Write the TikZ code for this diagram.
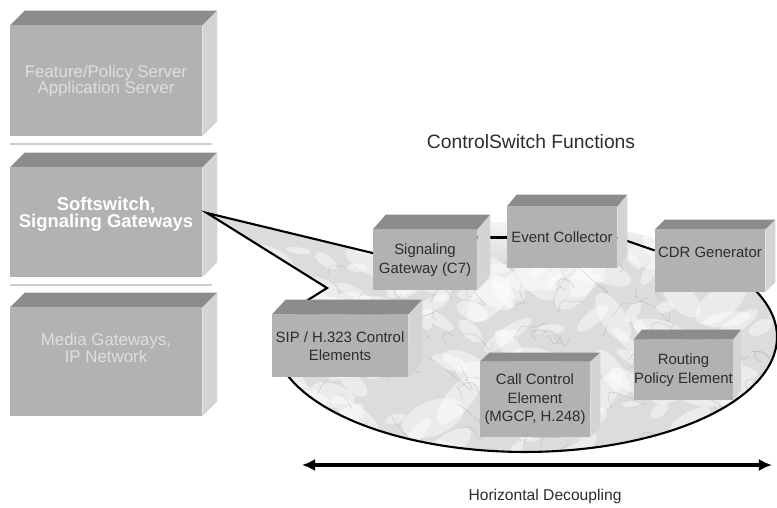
\documentclass[tikz,border=0pt]{standalone}
\usepackage{fontspec}
\setmainfont{Liberation Sans}
\usetikzlibrary{arrows.meta}
\pgfdeclarelayer{back}
\pgfdeclarelayer{links}
\pgfsetlayers{back,links,main}
\definecolor{boxfront}{RGB}{178,178,178}
\definecolor{boxtop}{RGB}{140,140,140}
\definecolor{boxside}{RGB}{212,212,212}
\definecolor{fainttext}{RGB}{222,222,222}
\definecolor{darktext}{RGB}{45,45,45}
\definecolor{marble}{RGB}{220,220,220}
\definecolor{sepline}{RGB}{205,205,205}
\tikzset{
  cube/.style={fill=boxfront, inner sep=0pt, align=center},
  layerbox/.style={cube, minimum width=3.84cm},
  layertext/.style={align=center, text=fainttext, font=\fontsize{9.6}{9.4}\selectfont},
  funcbox/.style={cube, text=darktext, font=\fontsize{8.5}{10.5}\selectfont},
  link/.style={line width=1.2pt},
  bubbleline/.style={line width=1.2pt},
  bubbleoutline/.style={insert path={(207,213) -- (385,256) -- (399,237.4)
    arc[start angle=120, end angle=-170, x radius=5.04cm, y radius=2.3cm]
    -- (300,305) -- (327,288) -- cycle}},
}
\newcommand{\boxsides}[3]{%
  \fill[boxtop] (#1.north west) -- ++(#2,-#3) -- ([shift={(#2,-#3)}]#1.north east) -- (#1.north east) -- cycle;
  \fill[boxside] (#1.north east) -- ++(#2,-#3) -- ([shift={(#2,-#3)}]#1.south east) -- (#1.south east) -- cycle;
}
\begin{document}
\begin{tikzpicture}[x=0.02cm, y=-0.02cm]
\useasboundingbox (0,0) rectangle (777,507);
\pgfmathsetseed{7}

\begin{pgfonlayer}{back}
  \node[layerbox, minimum height=2.2cm] (feat) at (106,81) {};
  \boxsides{feat}{15}{15}
  \node[layertext] (featlbl) at (feat) {Feature/Policy Server\\Application Server};
  \node[layerbox, minimum height=2.18cm] (soft) at (106,222.5) {};
  \boxsides{soft}{15}{15}
  \node[layertext, text=white, font=\fontsize{10.5}{9.8}\selectfont\bfseries] (softlbl) at ([yshift=4.5pt]soft) {Softswitch,\\Signaling Gateways};
  \node[layerbox, minimum height=2.16cm] (media) at (106,362) {};
  \boxsides{media}{15}{15}
  \node[layertext] (medialbl) at ([yshift=8pt]media) {Media Gateways,\\IP Network};
  \draw[sepline, line width=1.5pt] (10,144) -- (212,144);
  \draw[sepline, line width=1.5pt] (10,285) -- (212,285);

  % marble bubble, fading out at the top
  \begin{scope}
    \clip[bubbleoutline];
    \fill[marble] (200,205) rectangle (777,460);
    \shade[top color=white, bottom color=marble] (440,205) rectangle (777,262);
    \foreach \k in {1,...,130}{
      \pgfmathsetmacro{\vx}{270+505*rnd}
      \pgfmathsetmacro{\vy}{235+220*rnd}
      \pgfmathsetmacro{\vr}{5+14*rnd}
      \pgfmathsetmacro{\vq}{(0.25+0.3*rnd)*\vr}
      \pgfmathsetmacro{\vt}{-60+120*rnd}
      \fill[white, opacity=.45, rotate around={\vt:(\vx,\vy)}] (\vx,\vy) ellipse[x radius=\vr pt, y radius=\vq pt];
    }
    \foreach \k in {1,...,100}{
      \pgfmathsetmacro{\vx}{270+505*rnd}
      \pgfmathsetmacro{\vy}{235+220*rnd}
      \pgfmathsetmacro{\va}{-30+60*rnd}
      \pgfmathsetmacro{\vb}{-20+40*rnd}
      \draw[gray!90, opacity=.3, line width=.35pt] (\vx,\vy) .. controls +(\va,\vb) and +(\vb,\va) .. +(1.2*\va,0.5*\vb+10);
    }
  \end{scope}
  \draw[bubbleline] (385,256) -- (207,213) -- (327,288) -- (300,305);
  \draw[bubbleline] (747.5,283) arc[start angle=28, end angle=-170, x radius=5.04cm, y radius=2.3cm];
\end{pgfonlayer}

\node[funcbox, minimum width=2.08cm, minimum height=1.2cm] (sg) at (425,260) {Signaling\\Gateway (C7)};
\boxsides{sg}{13}{15}
\node[funcbox, minimum width=2.2cm, minimum height=1.22cm] (ec) at (562,237.5) {Event Collector};
\boxsides{ec}{10}{12}
\node[funcbox, minimum width=2.2cm, minimum height=1.24cm, text depth=10pt] (cdr) at (710,261) {CDR Generator};
\boxsides{cdr}{10}{10}
\node[funcbox, minimum width=2.72cm, minimum height=1.24cm] (sip) at (340,346) {SIP / H.323 Control\\Elements};
\boxsides{sip}{14}{15}
\node[funcbox, minimum width=2.2cm, minimum height=1.5cm] (cc) at (535,399.5) {Call Control\\Element\\(MGCP, H.248)};
\boxsides{cc}{10}{9}
\node[funcbox, minimum width=1.94cm, minimum height=1.2cm] (rp) at (683.5,370) {Routing\\Policy Element};
\boxsides{rp}{8}{10}

\begin{pgfonlayer}{links}
  \draw[link] (ec.west) -- (sg.east |- ec.west);
  \draw[link] (ec.east) -- ([yshift=6pt]cdr.west);
\end{pgfonlayer}

\node[text=darktext, font=\fontsize{11}{13}\selectfont] (title) at (531,142) {ControlSwitch Functions};
\coordinate (hl) at (302,465);
\coordinate (hr) at (772,465);
\draw[{Latex[length=7.5pt,width=7pt]}-{Latex[length=7.5pt,width=7pt]}, line width=1.8pt] (hl) -- (hr);
\node[text=darktext, font=\fontsize{8.9}{11}\selectfont] (hdec) at (545,496) {Horizontal Decoupling};
\end{tikzpicture}
\end{document}
